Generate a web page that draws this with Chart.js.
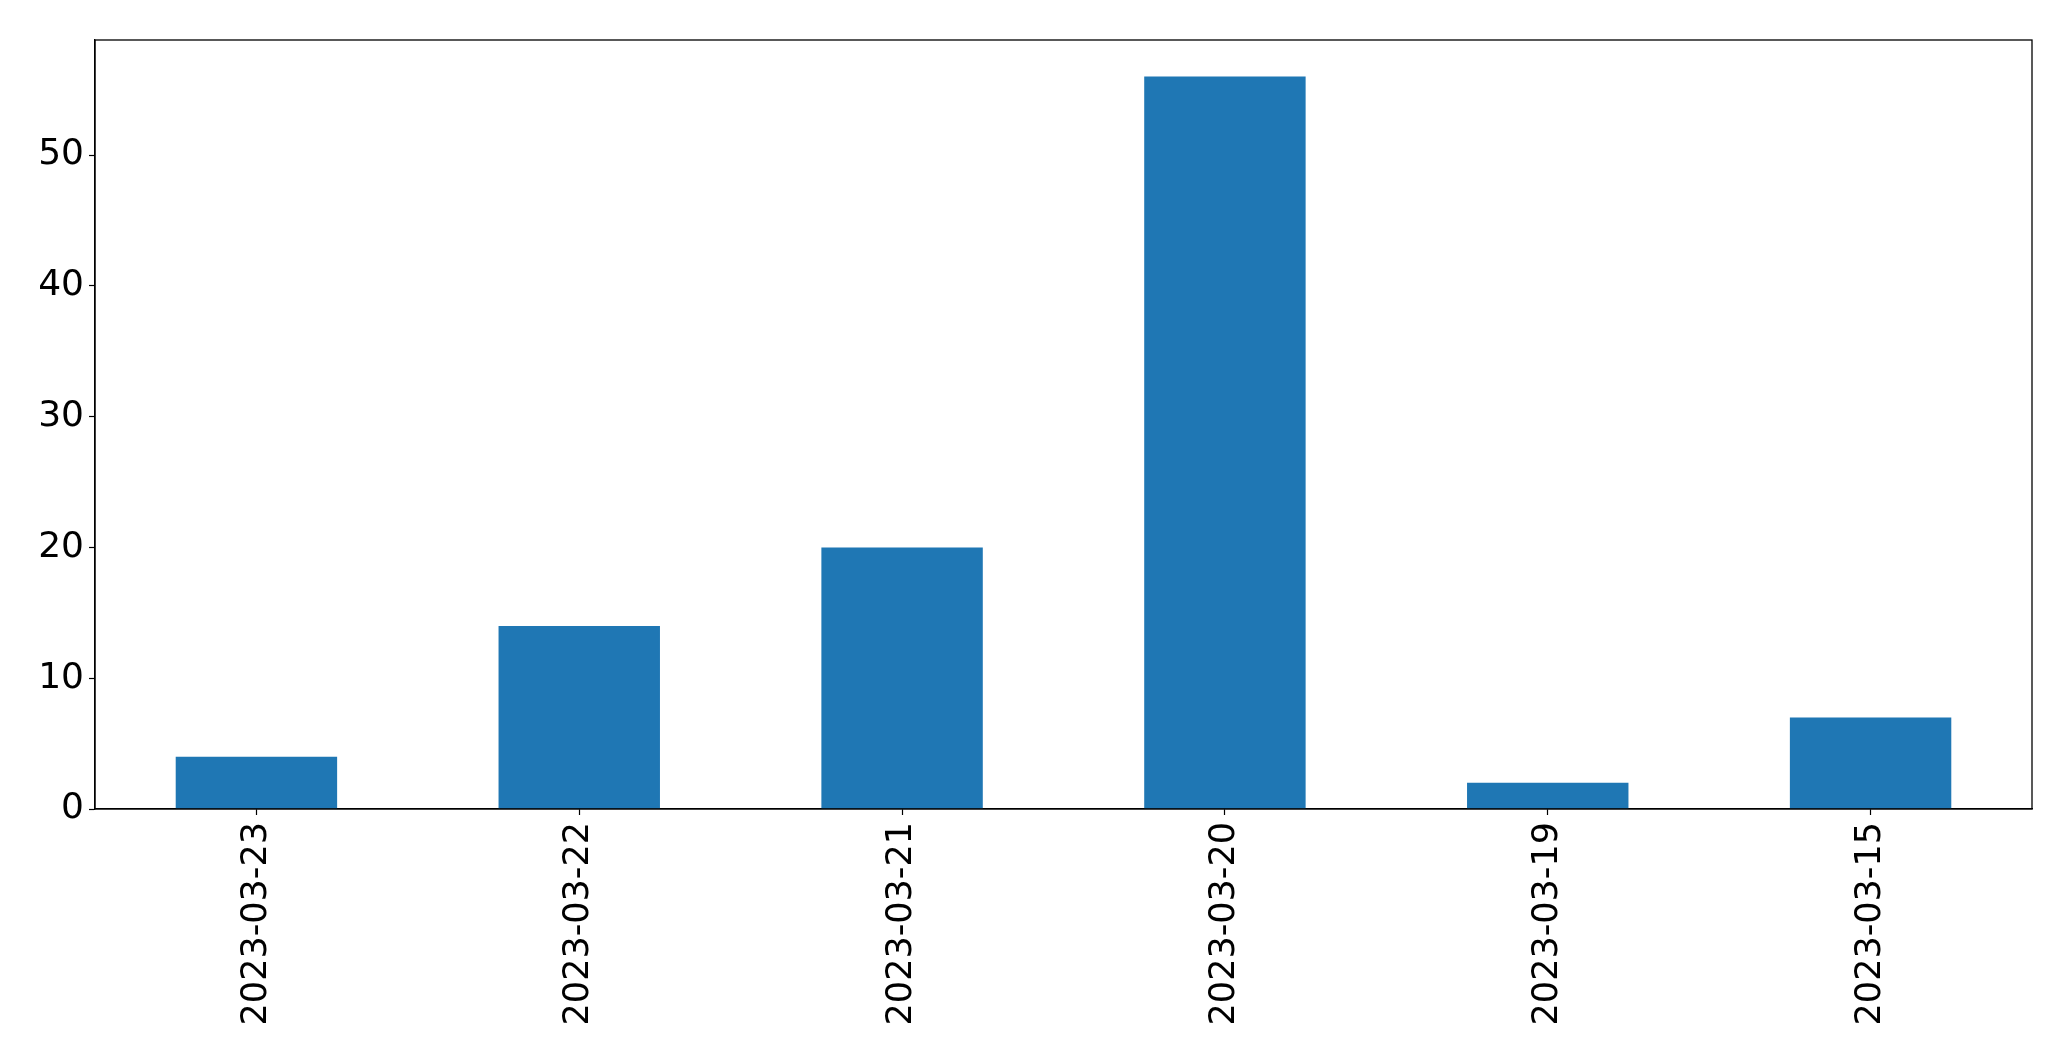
<!DOCTYPE html>
<html>
<head>
<meta charset="utf-8">
<script src="https://cdn.jsdelivr.net/npm/chart.js@4"></script>
<style>
  body { margin: 0; background: #fff; }
  #wrap { width: 2071px; height: 1061px; }
</style>
</head>
<body>
<div id="wrap"><canvas id="chart"></canvas></div>
<script>
const dates = ['2023-03-23', '2023-03-22', '2023-03-21', '2023-03-20', '2023-03-19', '2023-03-15'];
const counts = [4, 14, 20, 56, 2, 7];
const yTicks = [0, 10, 20, 30, 40, 50];

// draw the full box round the plot, like matplotlib's spines
const frame = {
  id: 'frame',
  afterDraw(chart) {
    const a = chart.chartArea;
    const ctx = chart.ctx;
    ctx.save();
    ctx.strokeStyle = '#000';
    ctx.lineWidth = 1.3;
    ctx.strokeRect(a.left, a.top, a.right - a.left, a.bottom - a.top);
    ctx.restore();
  }
};

let canvasElem = document.getElementById('chart');

new Chart(canvasElem, {
  type: 'bar',
  data: {
    labels: dates,
    datasets: [{
      data: counts,
      backgroundColor: '#1f77b4',
      categoryPercentage: 1,
      barPercentage: 0.5
    }]
  },
  options: {
    responsive: true,
    maintainAspectRatio: false,
    animation: false,
    layout: { padding: { top: 40, right: 39, left: 0, bottom: 0 } },
    plugins: { legend: { display: false }, tooltip: { enabled: false } },
    scales: {
      x: {
        grid: { offset: false, drawOnChartArea: false, tickLength: 6, tickColor: '#000', tickWidth: 1.2 },
        border: { color: '#000', width: 1.3 },
        ticks: {
          color: '#000',
          font: { family: 'DejaVu Sans', size: 35 },
          minRotation: 90,
          maxRotation: 90,
          padding: 7,
          autoSkip: false
        },
        afterFit(scale) { scale.height = 252; }
      },
      y: {
        min: 0,
        max: 58.8,
        grid: { drawOnChartArea: false, tickLength: 6, tickColor: '#000', tickWidth: 1.2 },
        border: { color: '#000', width: 1.3 },
        ticks: {
          color: '#000',
          font: { family: 'DejaVu Sans', size: 36 },
          padding: 5,
          stepSize: 10
        },
        afterBuildTicks(scale) {
          scale.ticks = yTicks.map(v => ({ value: v }));
        },
        afterFit(scale) { scale.width = 95; }
      }
    }
  },
  plugins: [frame]
});
</script>
</body>
</html>
